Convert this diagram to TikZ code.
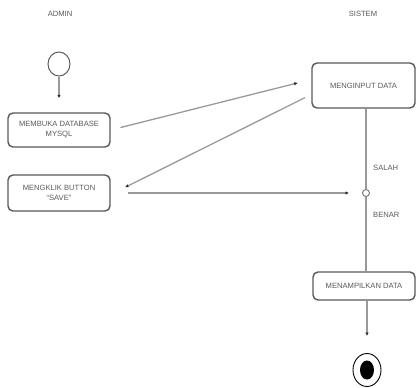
\documentclass[tikz,border=0pt]{standalone}
\usepackage{fontspec}
\setmainfont{Liberation Sans}
\usetikzlibrary{arrows.meta,calc,shapes.geometric}
\begin{document}
\begin{tikzpicture}[x=1pt,y=-1pt,
  every node/.style={font=\fontsize{7.6}{10}\selectfont, text=black!65},
  actbox/.style={draw=black!65, line width=1.4pt, rounded corners=5pt, align=center, inner sep=0pt},
  conn/.style={draw=black!40, line width=1.3pt},
  arr/.style={conn, -{Latex[length=3.5pt,width=3.5pt]}, arrows={[color=black!85]}},
  lbl/.style={inner sep=0pt}
]
\useasboundingbox (0,0) rectangle (416,388);
\node[lbl] (admin) at (60,14) {ADMIN};
\node[lbl] (sistem) at (363,14) {SISTEM};

\node[draw=black!65, line width=1pt, ellipse, minimum width=22pt, minimum height=24pt, inner sep=0pt] (start) at (59,64) {};
\node[actbox, minimum width=102pt, minimum height=34pt] (mb) at (59,130) {MEMBUKA DATABASE\\MYSQL};
\node[actbox, minimum width=102pt, minimum height=36pt] (mk) at (59,193) {MENGKLIK BUTTON\\``SAVE''};
\node[actbox, minimum width=103pt, minimum height=45pt] (mi) at (363.5,85.5) {MENGINPUT DATA};
\node[draw=black!55, line width=0.9pt, circle, minimum size=7pt, inner sep=0pt, fill=white] (dec) at (366,193) {};
\node[actbox, minimum width=102pt, minimum height=28pt] (ma) at (364,286) {MENAMPILKAN DATA};
\node[draw=black, line width=0.9pt, ellipse, minimum width=28pt, minimum height=33pt, inner sep=0pt] (end) at (367,370) {};
\node[fill=black, ellipse, minimum width=14pt, minimum height=19pt, inner sep=0pt] (endin) at (367,370) {};

\node[lbl, anchor=west] (salah) at (373,168) {SALAH};
\node[lbl, anchor=west] (benar) at (373,215) {BENAR};

\draw[arr, shorten >=14pt] (start.south) -- (mb.north);
\draw[arr, shorten <=10pt, shorten >=14pt] (mb.east) -- ([yshift=6pt]mi.west);
\draw[arr, shorten <=7pt, shorten >=16pt] ([yshift=-9pt]mi.west) -- ([yshift=-1.5pt]mk.east);
\draw[arr, shorten <=17pt, shorten >=13pt] (mk.east) -- (dec.west);
\draw[conn] (mi.south -| dec) -- (dec.north);
\draw[conn] (dec.south) -- (ma.north -| dec);
\draw[arr, shorten >=17pt] (ma.south -| end) -- (end.north);
\end{tikzpicture}
\end{document}
